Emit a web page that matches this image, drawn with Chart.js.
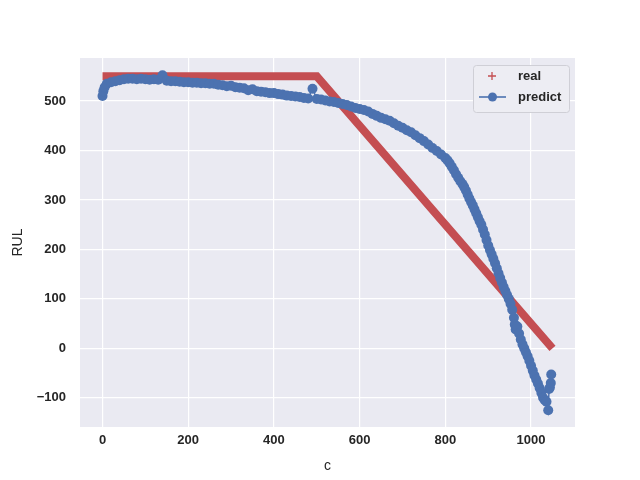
<!DOCTYPE html>
<html>
<head>
<meta charset="utf-8">
<script src="https://cdn.jsdelivr.net/npm/chart.js@4/dist/chart.umd.min.js"></script>
<style>
html, body { margin: 0; padding: 0; background: #fff; }
#wrap { width: 640px; height: 480px; }
</style>
</head>
<body>
<div id="wrap"><canvas id="rulChart" width="640" height="480"></canvas></div>
<script>
// real RUL: flat cap, then linear down to zero
const realCycles = [0, 500, 1050];
const realRul = [550, 550, 0];

// predicted RUL (denser where the curve is steep)
const predCycles = [
  0, 2, 5, 10, 20, 30, 40, 50, 60, 70, 80, 90,
  100, 110, 120, 130, 140, 150, 160, 170, 180, 190,
  200, 210, 220, 230, 240, 250, 260, 270, 280, 290,
  300, 310, 320, 330, 340, 350, 360, 370, 380, 390,
  400, 410, 420, 430, 440, 450, 460, 470, 480, 490,
  500, 510, 520, 530, 540, 550, 560, 570, 580, 590,
  600, 610, 620, 630, 640, 650, 660, 670, 680, 690,
  700, 710, 720, 730, 740, 750, 760, 770, 780, 790,
  800, 805, 810, 815, 820, 825, 830, 835, 840, 844, 848,
  852, 856, 860, 864, 868, 872, 876, 880, 884, 888,
  892, 896, 900, 904, 908, 912, 916, 920, 924, 928,
  932, 936, 940, 944, 948, 952, 956, 960, 962, 964,
  968, 972, 976, 980, 984, 988, 992, 996, 1000, 1004,
  1008, 1012, 1016, 1020, 1024, 1028, 1032, 1036, 1040, 1042,
  1044, 1046, 1047
];
const predRul = [
  510, 520, 528, 535, 538, 540, 542, 544, 545, 545, 544, 545,
  544, 543, 544, 543, 552, 541, 540, 540, 539, 538,
  538, 537, 537, 536, 536, 535, 535, 533, 532, 530,
  531, 528, 527, 526, 522, 524, 520, 519, 518, 516,
  516, 514, 513, 511, 510, 509, 508, 506, 505, 525,
  504, 503, 501, 499, 498, 496, 494, 492, 489, 486,
  484, 482, 479, 474, 470, 466, 463, 460, 455, 450,
  446, 441, 437, 431, 425, 419, 412, 405, 399, 392,
  385, 380, 374, 367, 360, 352, 345, 338, 332, 326, 319,
  311, 303, 296, 289, 281, 273, 265, 257, 250, 240,
  230, 219, 208, 199, 190, 181, 172, 162, 152, 142,
  133, 124, 116, 108, 100, 90, 78, 62, 48, 38,
  44, 30, 18, 8, 0, -8, -16, -25, -35, -45,
  -55, -63, -71, -80, -90, -100, -105, -108, -125, -82,
  -79, -70, -53
];

const xTicks = [0, 200, 400, 600, 800, 1000];
const yTicks = [-100, 0, 100, 200, 300, 400, 500];

const tickFont = { family: "'Liberation Sans', Arial, sans-serif", size: 13, weight: "bold" };
const titleFont = { family: "'Liberation Sans', Arial, sans-serif", size: 14 };

const realData = realCycles.map((c, i) => ({ x: c, y: realRul[i] }));
const predData = predCycles.map((c, i) => ({ x: c, y: predRul[i] }));

const plotBackground = {
  id: "plotBackground",
  beforeDraw(chart) {
    const { ctx, chartArea } = chart;
    ctx.save();
    ctx.fillStyle = "#EAEAF2";
    ctx.fillRect(chartArea.left, chartArea.top,
      chartArea.right - chartArea.left, chartArea.bottom - chartArea.top);
    ctx.restore();
  }
};

const innerLegend = {
  id: "innerLegend",
  afterDraw(chart) {
    const ctx = chart.ctx;
    const x = 473, y = 65, w = 96, h = 47;
    ctx.save();
    ctx.fillStyle = "#EDEDF3";
    ctx.strokeStyle = "#CFCFD6";
    ctx.lineWidth = 1;
    ctx.beginPath();
    ctx.roundRect(x + 0.5, y + 0.5, w, h, 3);
    ctx.fill();
    ctx.stroke();

    // real: plus marker
    ctx.strokeStyle = "#C44E52";
    ctx.lineWidth = 1.3;
    ctx.beginPath();
    ctx.moveTo(488, 76); ctx.lineTo(496, 76);
    ctx.moveTo(492, 72); ctx.lineTo(492, 80);
    ctx.stroke();

    // predict: line with dot
    ctx.strokeStyle = "#4C72B0";
    ctx.lineWidth = 1.6;
    ctx.beginPath();
    ctx.moveTo(479, 97); ctx.lineTo(506, 97);
    ctx.stroke();
    ctx.fillStyle = "#4C72B0";
    ctx.beginPath();
    ctx.arc(492.5, 97, 4.5, 0, Math.PI * 2);
    ctx.fill();

    ctx.fillStyle = "#262626";
    ctx.font = "bold 13px 'Liberation Sans', Arial, sans-serif";
    ctx.textBaseline = "middle";
    ctx.fillText("real", 518, 76);
    ctx.fillText("predict", 518, 97);
    ctx.restore();
  }
};

const minus = v => (v < 0 ? "\u2212" + Math.abs(v) : String(v));

new Chart(document.getElementById("rulChart"), {
  type: "scatter",
  data: {
    datasets: [{
      label: "real",
      data: realData,
      showLine: true,
      borderColor: "#C44E52",
      borderWidth: 8,
      borderCapStyle: "butt",
      pointRadius: 0,
      order: 2
    }, {
      label: "predict",
      data: predData,
      showLine: true,
      borderColor: "#4C72B0",
      borderWidth: 1.5,
      pointRadius: 5,
      pointBorderWidth: 0,
      pointBackgroundColor: "#4C72B0",
      order: 1
    }]
  },
  options: {
    responsive: false,
    devicePixelRatio: 1,
    animation: false,
    layout: { padding: { top: 58, right: 65, left: 0, bottom: 0 } },
    plugins: {
      legend: { display: false },
      tooltip: { enabled: false }
    },
    scales: {
      x: {
        type: "linear",
        min: -52.5,
        max: 1102.5,
        afterBuildTicks: s => { s.ticks = xTicks.map(v => ({ value: v })); },
        afterFit: s => { s.height = 53; },
        grid: { color: "#FFFFFF", lineWidth: 1.2, drawTicks: false },
        border: { display: false },
        ticks: { font: tickFont, color: "#262626", padding: 6, maxRotation: 0, callback: minus },
        title: { display: true, text: "c", font: titleFont, color: "#262626", padding: { top: 0, bottom: 5 } }
      },
      y: {
        type: "linear",
        min: -159,
        max: 587,
        afterBuildTicks: s => { s.ticks = yTicks.map(v => ({ value: v })); },
        afterFit: s => { s.width = 80; },
        grid: { color: "#FFFFFF", lineWidth: 1.2, drawTicks: false },
        border: { display: false },
        ticks: { font: tickFont, color: "#262626", padding: 14, callback: minus },
        title: { display: true, text: "RUL", font: titleFont, color: "#262626", padding: { top: 10, bottom: 0 } }
      }
    }
  },
  plugins: [plotBackground, innerLegend]
});
</script>
</body>
</html>
